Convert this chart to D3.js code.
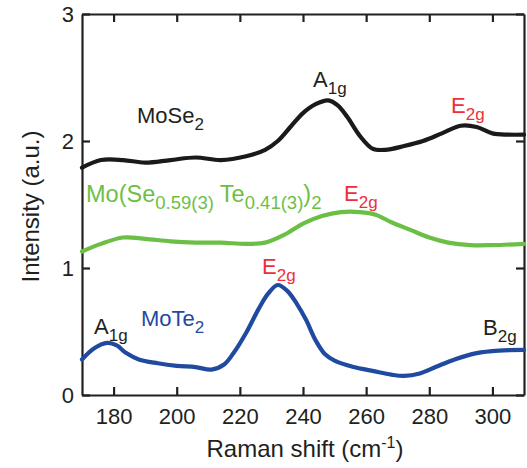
<!DOCTYPE html>
<html>
<head>
<meta charset="utf-8">
<script src="https://cdn.jsdelivr.net/npm/d3@7"></script>
<style>
  body { margin: 0; background: #fff; }
  svg text { font-family: "Liberation Sans", Arial, sans-serif; }
</style>
</head>
<body>
<div class="graph"></div>
<script>
// data
const shiftSe = [170, 176, 183, 190, 198, 206, 214, 222, 228, 232, 236, 240, 244, 248, 251, 254, 258, 262, 266, 272, 278, 284, 290, 295, 300, 305, 310];
const intSe = [1.79, 1.85, 1.85, 1.83, 1.85, 1.87, 1.85, 1.88, 1.93, 2.0, 2.11, 2.22, 2.29, 2.32, 2.28, 2.19, 2.04, 1.94, 1.93, 1.96, 2.0, 2.06, 2.12, 2.11, 2.06, 2.05, 2.05];

const shiftMix = [170, 176, 183, 190, 198, 206, 214, 222, 228, 234, 240, 246, 252, 258, 263, 268, 274, 280, 286, 293, 300, 310];
const intMix = [1.13, 1.19, 1.24, 1.23, 1.21, 1.2, 1.2, 1.19, 1.2, 1.26, 1.35, 1.41, 1.44, 1.44, 1.42, 1.36, 1.3, 1.24, 1.2, 1.18, 1.18, 1.19];

const shiftTe = [170, 174, 178, 181, 184, 188, 194, 200, 206, 211, 215, 218, 222, 226, 229, 232, 235, 238, 241, 244, 247, 250, 256, 262, 268, 272, 277, 282, 288, 295, 302, 310];
const intTe = [0.28, 0.37, 0.41, 0.39, 0.33, 0.28, 0.25, 0.23, 0.22, 0.2, 0.24, 0.33, 0.49, 0.68, 0.8, 0.866, 0.82, 0.72, 0.59, 0.43, 0.32, 0.27, 0.22, 0.19, 0.16, 0.15, 0.17, 0.22, 0.28, 0.33, 0.35, 0.355];

const xTicks = [180, 200, 220, 240, 260, 280, 300];
const yTicks = [0, 1, 2, 3];

//setting
const width = 527;
const height = 468;
const margin = { left: 82, right: 3, top: 14, bottom: 73 };
const black = "#1a1a1a";
const green = "#6cbf45";
const blue = "#1f4aa0";
const red = "#ec2f3a";

const xScale = d3.scaleLinear().domain([170, 310]).range([margin.left, width - margin.right]);
const yScale = d3.scaleLinear().domain([0, 3]).range([height - margin.bottom, margin.top]);

const svg = d3.select(".graph").append("svg").attr("width", width).attr("height", height);

//axes
const fmt = d3.format("d");
svg.append("g")
  .attr("transform", "translate(0," + yScale(0) + ")")
  .call(d3.axisBottom(xScale).tickValues(xTicks).tickFormat(fmt).tickSizeInner(-8).tickSizeOuter(0).tickPadding(13));
svg.append("g")
  .attr("transform", "translate(0," + yScale(3) + ")")
  .call(d3.axisTop(xScale).tickValues(xTicks).tickFormat("").tickSizeInner(-8).tickSizeOuter(0));
svg.append("g")
  .attr("transform", "translate(" + xScale(170) + ",0)")
  .call(d3.axisLeft(yScale).tickValues(yTicks).tickFormat(fmt).tickSizeInner(-8).tickSizeOuter(0).tickPadding(8));
svg.append("g")
  .attr("transform", "translate(" + xScale(310) + ",0)")
  .call(d3.axisRight(yScale).tickValues(yTicks).tickFormat("").tickSizeInner(-8).tickSizeOuter(0));

svg.selectAll(".domain, .tick line").attr("stroke", "#231f20").attr("stroke-width", 2.2);
svg.selectAll(".tick text").attr("font-size", 22).attr("fill", "#231f20");

//axis titles
const xt = svg.append("text")
  .attr("x", (xScale(170) + xScale(310)) / 2 + 2)
  .attr("y", 457)
  .attr("text-anchor", "middle")
  .attr("font-size", 24)
  .attr("fill", "#231f20");
xt.append("tspan").text("Raman shift (cm");
xt.append("tspan").attr("font-size", 16).attr("dy", -9).text("-1");
xt.append("tspan").attr("dy", 9).text(")");

svg.append("text")
  .attr("transform", "translate(39," + (yScale(1.5) + 2) + ") rotate(-90)")
  .attr("text-anchor", "middle")
  .attr("font-size", 24)
  .attr("fill", "#231f20")
  .text("Intensity (a.u.)");

//curves
const line = d3.line().x(d => xScale(d[0])).y(d => yScale(d[1])).curve(d3.curveCatmullRom.alpha(0.5));
const series = [
  { x: shiftSe, y: intSe, color: black },
  { x: shiftMix, y: intMix, color: green },
  { x: shiftTe, y: intTe, color: blue }
];
svg.selectAll("path.curve")
  .data(series)
  .enter()
  .append("path")
  .attr("class", "curve")
  .attr("d", s => line(s.x.map((v, i) => [v, s.y[i]])))
  .attr("fill", "none")
  .attr("stroke", s => s.color)
  .attr("stroke-width", 4.2)
  .attr("stroke-linejoin", "round")
  .attr("stroke-linecap", "round");

// labels with subscripts: parts of [text, isSub, dx]
function label(x, y, parts, color, size, subSize, drop) {
  const t = svg.append("text").attr("x", x).attr("y", y).attr("font-size", size).attr("fill", color);
  let low = false;
  parts.forEach(p => {
    const sp = t.append("tspan").text(p[0]);
    if (p[1] && !low) { sp.attr("dy", drop).attr("font-size", subSize); low = true; }
    else if (p[1]) { sp.attr("font-size", subSize); }
    else if (!p[1] && low) { sp.attr("dy", -drop); low = false; }
    if (p[2]) sp.attr("dx", p[2]);
  });
}

label(137, 123, [["MoSe"], ["2", true]], "#231f20", 22, 17, 7);
label(313, 87, [["A"], ["1g", true]], "#231f20", 22, 17, 7);
label(451, 113, [["E"], ["2g", true]], red, 22, 17, 7);
label(86, 202, [["Mo(Se"], ["0.59(3)", true], ["Te", false, 6], ["0.41(3)", true], [")"], ["2", true]], green, 23.5, 18.5, 7);
label(344, 201, [["E"], ["2g", true]], red, 22, 17, 7);
label(262, 274, [["E"], ["2g", true]], red, 22, 17, 7);
label(141, 326, [["MoTe"], ["2", true]], blue, 22, 17, 7);
label(94, 334, [["A"], ["1g", true]], "#231f20", 22, 17, 7);
label(483, 335, [["B"], ["2g", true]], "#231f20", 22, 17, 7);
</script>
</body>
</html>
